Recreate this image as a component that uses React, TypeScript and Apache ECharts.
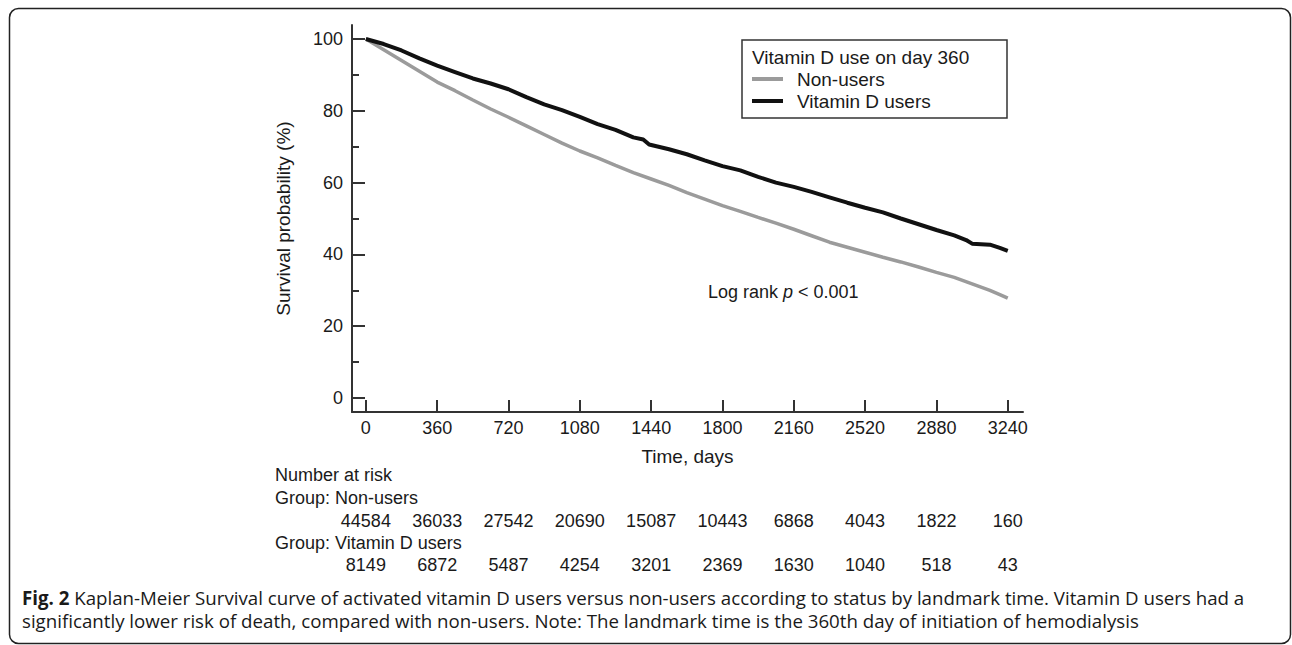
import React, { useEffect, useRef } from "react";
import * as echarts from "echarts";

// ---- data ----
const nonUserDays = [0, 90, 180, 270, 360, 450, 540, 630, 720, 810, 900, 990, 1080, 1170, 1260, 1350, 1440, 1530, 1620, 1710, 1800, 1890, 1980, 2070, 2160, 2250, 2340, 2430, 2520, 2610, 2700, 2790, 2880, 2970, 3060, 3150, 3200, 3240];
const nonUserSurv = [100, 97.0, 94.0, 91.0, 88.0, 85.6, 83.0, 80.5, 78.2, 75.8, 73.4, 71.0, 68.8, 66.9, 64.8, 62.8, 61.0, 59.2, 57.2, 55.4, 53.6, 52.0, 50.3, 48.7, 47.0, 45.2, 43.4, 42.0, 40.6, 39.2, 37.9, 36.5, 35.0, 33.6, 31.8, 30.0, 28.8, 27.8];
const vitDDays = [0, 90, 180, 270, 360, 450, 540, 630, 720, 810, 900, 990, 1080, 1170, 1260, 1350, 1400, 1430, 1530, 1620, 1710, 1800, 1890, 1980, 2070, 2160, 2250, 2340, 2430, 2520, 2610, 2700, 2790, 2880, 2970, 3030, 3060, 3150, 3200, 3240];
const vitDSurv = [100, 98.6, 96.8, 94.6, 92.6, 90.8, 89.0, 87.6, 86.0, 83.8, 81.8, 80.2, 78.3, 76.3, 74.7, 72.6, 72.0, 70.6, 69.3, 67.9, 66.2, 64.6, 63.4, 61.6, 60.0, 58.8, 57.4, 55.9, 54.4, 53.0, 51.7, 50.0, 48.4, 46.8, 45.3, 44.0, 43.0, 42.7, 41.8, 41.0];

const xTicks = [0, 360, 720, 1080, 1440, 1800, 2160, 2520, 2880, 3240];
const yTicks = [0, 20, 40, 60, 80, 100];
const yMinorTicks = [10, 30, 50, 70, 90];
const riskNonUsers = [44584, 36033, 27542, 20690, 15087, 10443, 6868, 4043, 1822, 160];
const riskVitD = [8149, 6872, 5487, 4254, 3201, 2369, 1630, 1040, 518, 43];

const seriesNames = ["Non-users", "Vitamin D users"];
const legendTitle = "Vitamin D use on day 360";
const xName = "Time, days";
const yName = "Survival probability (%)";
const captionLine1 = "Kaplan-Meier Survival curve of activated vitamin D users versus non-users according to status by landmark time. Vitamin D users had a";
const captionLine2 = "significantly lower risk of death, compared with non-users. Note: The landmark time is the 360th day of initiation of hemodialysis";

const FONT = "'Liberation Sans', Arial, sans-serif";
const CAP_FONT = "'Open Sans', sans-serif";
const TXT = "#1a1a1a";
const AX = "#333333";

export default function App() {
  const ref = useRef<HTMLDivElement>(null);
  useEffect(() => {
    if (!ref.current) return;
    const chart = echarts.init(ref.current, null, { renderer: "svg" });
    const xMin = -70, xMax = 3317, yMin = -3.9, yMax = 103.9;
    const riskAxis = (vals: number[], offset: number) => ({
      type: "value",
      gridIndex: 0,
      min: xMin,
      max: xMax,
      position: "bottom",
      offset,
      axisLine: { show: false },
      axisTick: { show: false },
      splitLine: { show: false },
      axisLabel: {
        customValues: xTicks,
        margin: 0,
        fontSize: 18,
        fontFamily: FONT,
        color: TXT,
        formatter: (v: number) => {
          const i = xTicks.indexOf(v);
          return i >= 0 ? String(vals[i]) : "";
        },
      },
    });
    chart.setOption({
      animation: false,
      backgroundColor: "#ffffff",
      grid: { left: 352, right: 269, top: 25, bottom: 233, containLabel: false },
      xAxis: [
        {
          type: "value",
          min: xMin,
          max: xMax,
          name: xName,
          nameLocation: "middle",
          nameGap: 35,
          nameTextStyle: { fontSize: 19, fontFamily: FONT, color: TXT },
          axisLine: { onZero: false, lineStyle: { color: AX, width: 2 } },
          axisTick: { customValues: xTicks, inside: true, length: 12, lineStyle: { color: AX, width: 2 } },
          axisLabel: { customValues: xTicks, margin: 7, fontSize: 18, fontFamily: FONT, color: TXT, formatter: (v: number) => String(v) },
          splitLine: { show: false },
        },
        riskAxis(riskNonUsers, 100),
        riskAxis(riskVitD, 144),
      ],
      yAxis: [
        {
          type: "value",
          min: yMin,
          max: yMax,
          name: yName,
          nameLocation: "middle",
          nameGap: 59,
          nameTextStyle: { fontSize: 19, fontFamily: FONT, color: TXT },
          axisLine: { show: true, onZero: false, lineStyle: { color: AX, width: 2 } },
          axisTick: { customValues: yTicks, inside: true, length: 13, lineStyle: { color: AX, width: 2 } },
          axisLabel: { customValues: yTicks, margin: 9, fontSize: 18, fontFamily: FONT, color: TXT, formatter: (v: number) => String(v) },
          splitLine: { show: false },
        },
        {
          type: "value",
          min: yMin,
          max: yMax,
          position: "left",
          axisLine: { show: false, onZero: false },
          axisTick: { show: true, customValues: yMinorTicks, inside: true, length: 7, lineStyle: { color: AX, width: 2 } },
          axisLabel: { show: false },
          splitLine: { show: false },
        },
      ],
      legend: {
        orient: "vertical",
        left: 752,
        top: 68,
        padding: 0,
        itemGap: 0,
        itemWidth: 31,
        itemHeight: 4,
        icon: "rect",
        data: seriesNames,
        textStyle: { fontSize: 19, lineHeight: 22, fontFamily: FONT, color: TXT, padding: [0, 0, 0, 9] },
      },
      series: [
        {
          name: seriesNames[0],
          type: "line",
          symbol: "none",
          color: "#9b9b9b",
          lineStyle: { width: 3.5, color: "#9b9b9b" },
          data: nonUserDays.map((d, i) => [d, nonUserSurv[i]]),
          z: 2,
        },
        {
          name: seriesNames[1],
          type: "line",
          symbol: "none",
          color: "#111111",
          lineStyle: { width: 4, color: "#111111" },
          data: vitDDays.map((d, i) => [d, vitDSurv[i]]),
          z: 3,
        },
      ],
      graphic: [
        {
          type: "rect",
          shape: { x: 9.5, y: 8.5, width: 1281, height: 635, r: 9 },
          style: { fill: "none", stroke: "#222", lineWidth: 1.5 },
          silent: true,
          z: -1,
        },
        {
          type: "rect",
          shape: { x: 742, y: 40, width: 265, height: 78 },
          style: { fill: "none", stroke: AX, lineWidth: 1.5 },
          silent: true,
        },
        {
          type: "text",
          x: 752,
          y: 57,
          style: { text: legendTitle, fontSize: 19, fontFamily: FONT, fill: TXT, verticalAlign: "middle", align: "left" },
        },
        {
          type: "text",
          x: 708,
          y: 292,
          style: {
            text: "Log rank {i|p} < 0.001",
            fontSize: 18,
            fontFamily: FONT,
            fill: TXT,
            verticalAlign: "middle",
            align: "left",
            rich: { i: { fontStyle: "italic", fontSize: 18, fontFamily: FONT, fill: TXT } },
          },
        },
        {
          type: "text",
          x: 275,
          y: 475,
          style: { text: "Number at risk", fontSize: 18, fontFamily: FONT, fill: TXT, verticalAlign: "middle" },
        },
        {
          type: "text",
          x: 275,
          y: 498,
          style: { text: "Group: " + seriesNames[0], fontSize: 18, fontFamily: FONT, fill: TXT, verticalAlign: "middle" },
        },
        {
          type: "text",
          x: 275,
          y: 543,
          style: { text: "Group: " + seriesNames[1], fontSize: 18, fontFamily: FONT, fill: TXT, verticalAlign: "middle" },
        },
        {
          type: "text",
          x: 22,
          y: 597,
          style: {
            text: "{b|Fig. 2} " + captionLine1,
            fontSize: 18.7,
            fontFamily: CAP_FONT,
            fill: TXT,
            verticalAlign: "middle",
            rich: { b: { fontWeight: "bold", fontSize: 18.7, fontFamily: CAP_FONT, fill: TXT } },
          },
        },
        {
          type: "text",
          x: 22,
          y: 620,
          style: { text: captionLine2, fontSize: 18.7, fontFamily: CAP_FONT, fill: TXT, verticalAlign: "middle" },
        },
      ],
    });
    return () => chart.dispose();
  }, []);
  return <div ref={ref} style={{ position: "fixed", left: 0, top: 0, width: 1292, height: 645, background: "#fff" }} />;
}
